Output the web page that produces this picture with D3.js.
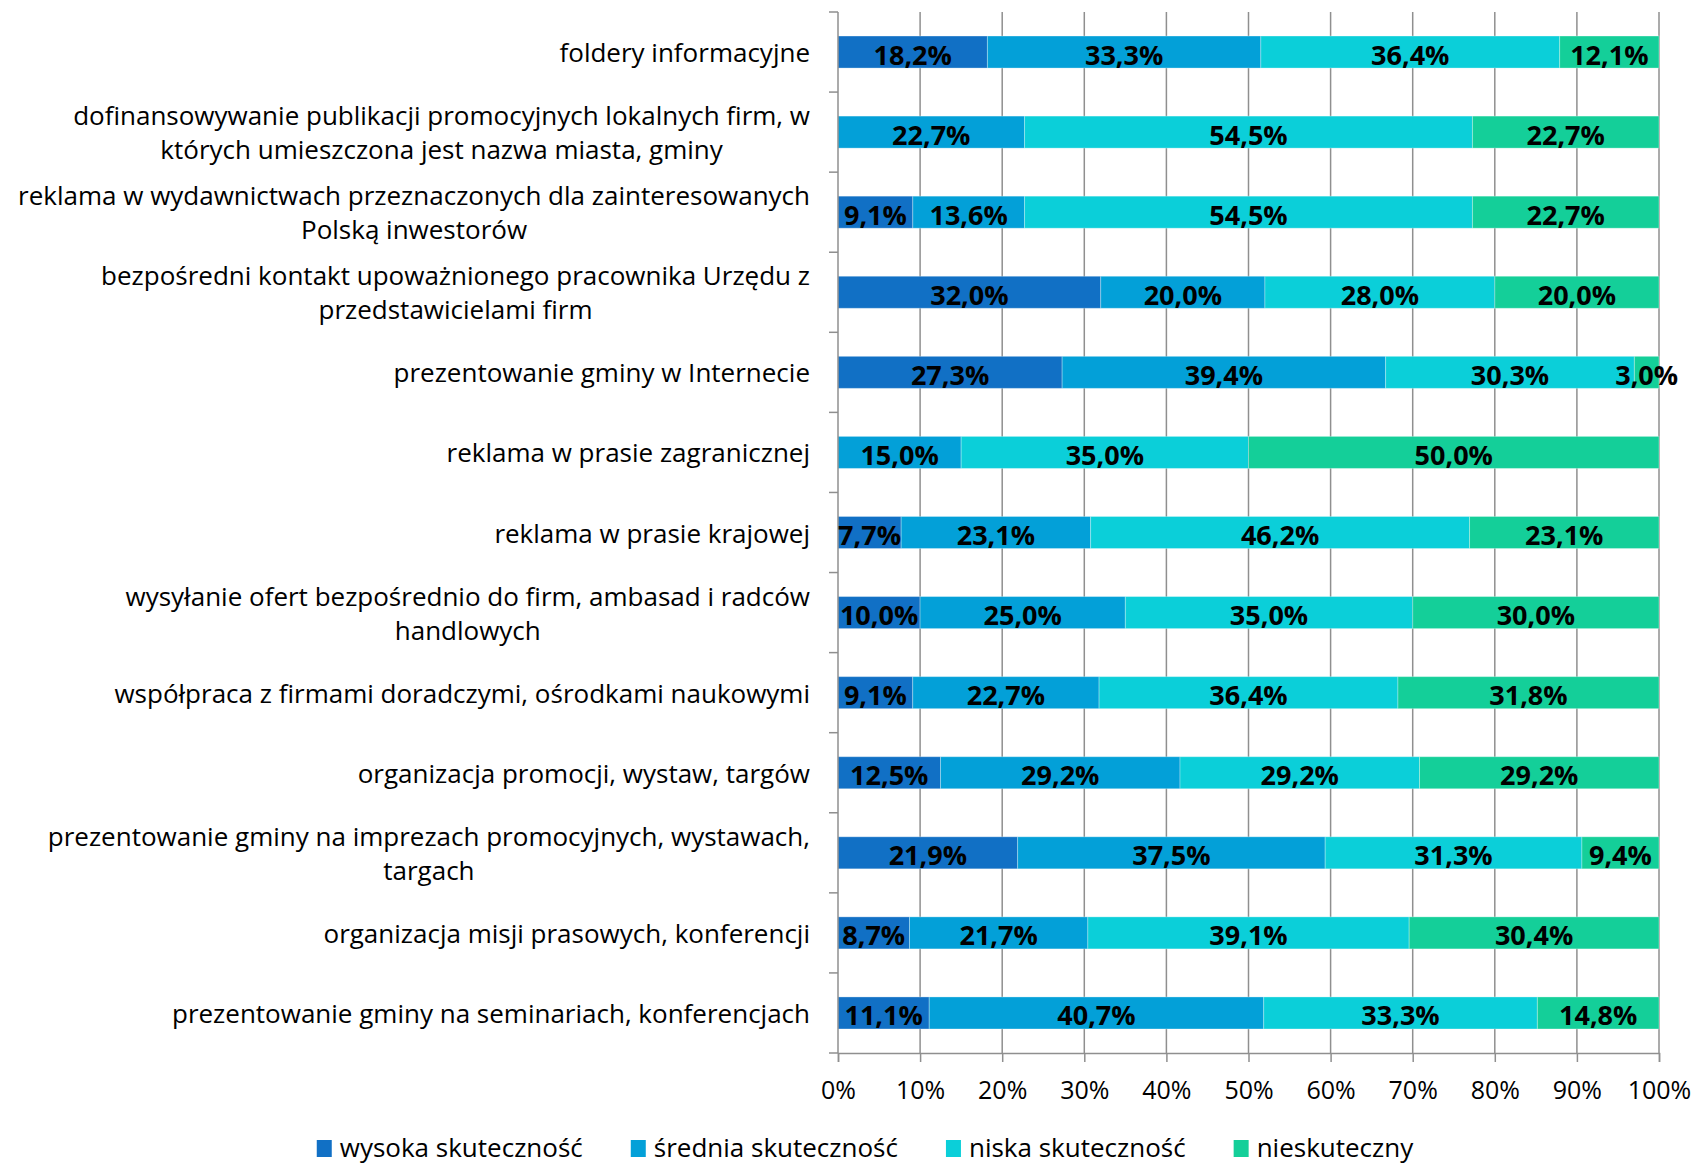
<!DOCTYPE html>
<html>
<head>
<meta charset="utf-8">
<script src="https://cdn.jsdelivr.net/npm/d3@7"></script>
<style>
  html, body { margin: 0; padding: 0; background: #ffffff; }
  svg { display: block; }
  text { font-family: "Open Sans", "DejaVu Sans", sans-serif; }
</style>
</head>
<body>
<svg id="chart" width="1696" height="1165"></svg>
<script>
// ---- data ----
const categories = [
  "foldery informacyjne",
  "dofinansowywanie publikacji promocyjnych lokalnych firm, w\nktórych umieszczona jest nazwa miasta, gminy",
  "reklama w wydawnictwach przeznaczonych dla zainteresowanych\nPolską inwestorów",
  "bezpośredni kontakt upoważnionego pracownika Urzędu z\nprzedstawicielami firm",
  "prezentowanie gminy w Internecie",
  "reklama w prasie zagranicznej",
  "reklama w prasie krajowej",
  "wysyłanie ofert bezpośrednio do firm, ambasad i radców\nhandlowych",
  "współpraca z firmami doradczymi, ośrodkami naukowymi",
  "organizacja promocji, wystaw, targów",
  "prezentowanie gminy na imprezach promocyjnych, wystawach,\ntargach",
  "organizacja misji prasowych, konferencji",
  "prezentowanie gminy na seminariach, konferencjach"
];
const seriesNames = ["wysoka skuteczność", "średnia skuteczność", "niska skuteczność", "nieskuteczny"];
const wysoka       = [18.2, 0,    9.1,  32.0, 27.3, 0,    7.7,  10.0, 9.1,  12.5, 21.9, 8.7,  11.1];
const srednia      = [33.3, 22.7, 13.6, 20.0, 39.4, 15.0, 23.1, 25.0, 22.7, 29.2, 37.5, 21.7, 40.7];
const niska        = [36.4, 54.5, 54.5, 28.0, 30.3, 35.0, 46.2, 35.0, 36.4, 29.2, 31.3, 39.1, 33.3];
const nieskuteczny = [12.1, 22.7, 22.7, 20.0, 3.0,  50.0, 23.1, 30.0, 31.8, 29.2, 9.4,  30.4, 14.8];
const xTicks = [0, 0.1, 0.2, 0.3, 0.4, 0.5, 0.6, 0.7, 0.8, 0.9, 1.0];
const colors = ["#1170C5", "#03A0D8", "#0BCFD9", "#14CF99"];

// ---- build table ----
const seriesValues = [wysoka, srednia, niska, nieskuteczny];
const rows = categories.map((c, i) => {
  const r = { cat: c };
  seriesNames.forEach((s, j) => r[s] = seriesValues[j][i]);
  return r;
});

const svg = d3.select("#chart");
const plot = { left: 838, right: 1659, top: 12, bottom: 1053 };

const x = d3.scaleLinear().domain([0, 1]).range([plot.left, plot.right]);
const y = d3.scaleBand().domain(categories).range([plot.top, plot.bottom])
  .paddingInner(0.6).paddingOuter(0.3);
const color = d3.scaleOrdinal().domain(seriesNames).range(colors);

const stack = d3.stack().keys(seriesNames).offset(d3.stackOffsetExpand);
const stacked = stack(rows);

// gridlines
svg.append("g").selectAll("line")
  .data(xTicks.filter(t => t > 0))
  .join("line")
  .attr("x1", d => x(d)).attr("x2", d => x(d))
  .attr("y1", plot.top).attr("y2", plot.bottom)
  .attr("stroke", "#8f8f8f").attr("stroke-width", 1.5);

// bars
const layers = svg.append("g").selectAll("g")
  .data(stacked).join("g")
  .attr("fill", d => color(d.key));

layers.selectAll("rect")
  .data(d => d.map(v => ({ v, key: d.key })))
  .join("rect")
  .attr("x", d => x(d.v[0]))
  .attr("y", d => y(d.v.data.cat))
  .attr("width", d => Math.max(0, x(d.v[1]) - x(d.v[0])))
  .attr("height", y.bandwidth())
  .attr("stroke", "#ffffff").attr("stroke-opacity", 0.3).attr("stroke-width", 1);

// left axis (category boundary ticks)
const step = y.step();
const leftAxis = svg.append("g");
leftAxis.append("line")
  .attr("x1", plot.left).attr("x2", plot.left)
  .attr("y1", plot.top).attr("y2", plot.bottom)
  .attr("stroke", "#8f8f8f").attr("stroke-width", 1.5);
leftAxis.selectAll("line.tk")
  .data(d3.range(categories.length + 1))
  .join("line").attr("class", "tk")
  .attr("x1", plot.left - 9).attr("x2", plot.left)
  .attr("y1", i => plot.top + i * step).attr("y2", i => plot.top + i * step)
  .attr("stroke", "#8f8f8f").attr("stroke-width", 1.5);

// bottom axis
const xAxis = d3.axisBottom(x).tickValues(xTicks)
  .tickFormat(d3.format(".0%")).tickSize(9).tickPadding(19);
const gx = svg.append("g").attr("transform", `translate(0,${plot.bottom})`).call(xAxis);
gx.select(".domain").attr("stroke", "#8f8f8f").attr("stroke-width", 1.5);
gx.selectAll(".tick line").attr("stroke", "#8f8f8f").attr("stroke-width", 1.5);
gx.selectAll(".tick text")
  .attr("font-family", "'Open Sans', sans-serif")
  .attr("font-size", 25).attr("fill", "#000");

// data labels
const fmt = v => v.toFixed(1).replace(".", ",") + "%";
svg.append("g").selectAll("text")
  .data(stacked.flatMap(layer => layer.map(v => ({ v, key: layer.key }))).filter(d => d.v.data[d.key] > 0))
  .join("text")
  .attr("x", d => (x(d.v[0]) + x(d.v[1])) / 2)
  .attr("y", d => y(d.v.data.cat) + y.bandwidth() / 2 + 2)
  .attr("text-anchor", "middle")
  .attr("dominant-baseline", "central")
  .attr("font-size", 27).attr("font-weight", 700).attr("fill", "#000")
  .text(d => fmt(d.v.data[d.key]));

// category labels
const labelRight = 810;
const lineH = 34;
const lg = svg.append("g");
categories.forEach(c => {
  const lines = c.split("\n");
  const cy = y(c) + y.bandwidth() / 2;
  const g = lg.append("g");
  const texts = lines.map((ln, k) => g.append("text")
    .attr("y", cy + (k - (lines.length - 1) / 2) * lineH)
    .attr("dominant-baseline", "central")
    .attr("text-anchor", "middle")
    .attr("font-size", 26).attr("fill", "#000")
    .text(ln));
  const w = d3.max(texts, t => t.node().getComputedTextLength());
  texts.forEach(t => t.attr("x", labelRight - w / 2));
});

// legend
const legend = svg.append("g");
const legendY = 1147;
const items = seriesNames.map(s => {
  const g = legend.append("g");
  g.append("rect").attr("width", 15).attr("height", 17).attr("y", legendY - 7).attr("fill", color(s));
  const t = g.append("text").attr("x", 23).attr("y", legendY)
    .attr("dominant-baseline", "central").attr("font-size", 26).attr("fill", "#000").text(s);
  return { g, w: 23 + t.node().getComputedTextLength() };
});
const gap = 48;
const total = d3.sum(items, d => d.w) + gap * (items.length - 1);
let lx = 865 - total / 2;
items.forEach(it => { it.g.attr("transform", `translate(${lx},0)`); lx += it.w + gap; });
</script>
</body>
</html>
